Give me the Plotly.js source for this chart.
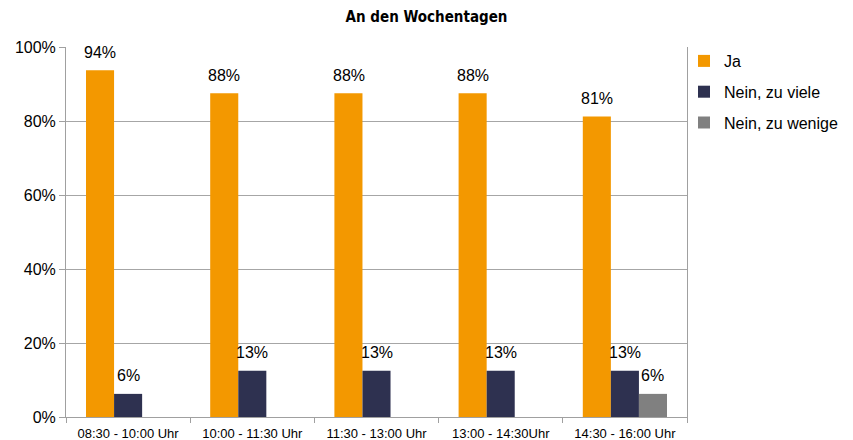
<!DOCTYPE html>
<html>
<head>
<meta charset="utf-8">
<script src="https://cdn.plot.ly/plotly-3.0.1.min.js"></script>
<style>html,body{margin:0;padding:0;background:#fff;}#chart{width:853px;height:440px;}</style>
</head>
<body>
<div id="chart"></div>
<script>
const categories = ["08:30 - 10:00 Uhr", "10:00 - 11:30 Uhr", "11:30 - 13:00 Uhr", "13:00 - 14:30Uhr", "14:30 - 16:00 Uhr"];
const seriesNames = ["Ja", "Nein, zu viele", "Nein, zu wenige"];
const ja = [93.75, 87.5, 87.5, 87.5, 81.25];
const zuViele = [6.25, 12.5, 12.5, 12.5, 12.5];
const zuWenige = [0, 0, 0, 0, 6.25];
const seriesColors = ["#F39800", "#2E3150", "#808080"];
const yTickVals = [0, 20, 40, 60, 80, 100];
const yTickText = ["0%", "20%", "40%", "60%", "80%", "100%"];

const seriesValues = [ja, zuViele, zuWenige];
const traces = seriesValues.map((vals, i) => ({
  type: "bar",
  name: seriesNames[i],
  x: categories,
  y: vals,
  marker: {color: seriesColors[i], line: {width: 0}},
  legendgroup: "g" + i,
  hoverinfo: "skip"
}));

// value labels above bars (skip zeros)
const barPx = 28;
const annotations = [];
seriesValues.forEach((vals, i) => {
  vals.forEach((v, j) => {
    if (v <= 0) return;
    annotations.push({
      x: categories[j], y: v, xref: "x", yref: "y",
      text: Math.round(v) + "%",
      showarrow: false,
      xshift: (i - 1) * barPx,
      yshift: 18,
      yanchor: "middle",
      font: {family: "Liberation Sans, Arial, sans-serif", size: 16, color: "#000"}
    });
  });
});

const layout = {
  width: 853, height: 440,
  margin: {l: 66, r: 166, t: 47, b: 23, autoexpand: false},
  paper_bgcolor: "#fff", plot_bgcolor: "#fff",
  title: {
    text: "<b>An den Wochentagen</b>",
    xref: "container", x: 0.5, xanchor: "center",
    yref: "container", y: 0.962, yanchor: "middle",
    font: {family: "DejaVu Sans Condensed, Open Sans, sans-serif", size: 15, color: "#000"}
  },
  barmode: "group",
  bargap: 0.322,
  bargroupgap: 0,
  showlegend: true,
  legend: {
    xref: "container", yref: "container",
    x: 684 / 853, xanchor: "left", y: 1 - 44 / 440, yanchor: "top",
    font: {family: "Liberation Sans, Arial, sans-serif", size: 16, color: "#000"},
    tracegroupgap: 7,
    itemwidth: 30,
    bgcolor: "rgba(0,0,0,0)"
  },
  xaxis: {
    type: "category",
    tickson: "boundaries",
    ticks: "outside", ticklen: 5, tickcolor: "#a0a0a0", tickwidth: 1,
    showline: true, linecolor: "#a0a0a0", linewidth: 1,
    showgrid: false, zeroline: false,
    ticklabelstandoff: 4,
    tickfont: {family: "Liberation Sans, Arial, sans-serif", size: 13, color: "#000"},
    fixedrange: true
  },
  yaxis: {
    range: [0, 100],
    tickvals: yTickVals, ticktext: yTickText,
    ticks: "outside", ticklen: 6, tickcolor: "#a0a0a0",
    showline: true, linecolor: "#a0a0a0", linewidth: 1, mirror: true,
    showgrid: true, gridcolor: "#a6a6a6", gridwidth: 1,
    zeroline: false,
    tickfont: {family: "Liberation Sans, Arial, sans-serif", size: 16, color: "#000"},
    fixedrange: true
  },
  annotations: annotations
};

Plotly.newPlot("chart", traces, layout, {displayModeBar: false, staticPlot: true});
</script>
</body>
</html>
